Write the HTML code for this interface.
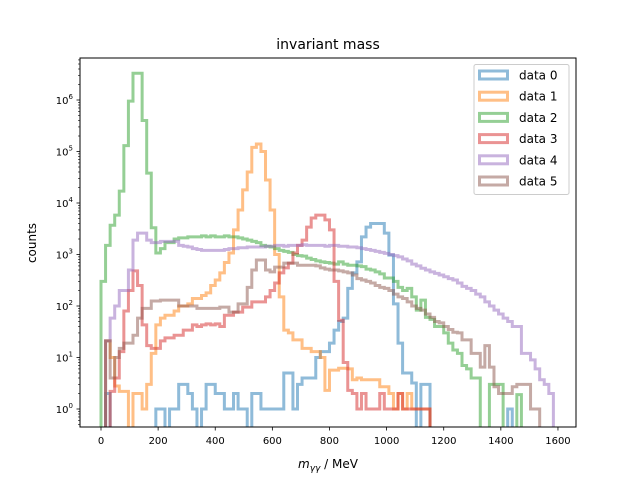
<!DOCTYPE html>
<html><head><meta charset="utf-8"><style>
body{margin:0;background:#fff}
svg text{font-family:"DejaVu Sans","Liberation Sans",sans-serif}
</style></head><body>
<svg id="chart" width="640" height="480" viewBox="0 0 640 480">
<rect width="640" height="480" fill="#fff"/>
<defs><clipPath id="clip"><rect x="80" y="58" width="496" height="369"/></clipPath></defs>
<g id="series" clip-path="url(#clip)"></g>
<rect x="80" y="58" width="496" height="369" fill="none" stroke="#000" stroke-width="1"/>
<g id="axes"></g>
<text x="328" y="49" font-size="14" text-anchor="middle">invariant mass</text>
<text x="328" y="468" font-size="12" text-anchor="middle"><tspan font-style="italic">m</tspan><tspan font-size="9" dy="3" font-style="italic">γγ</tspan><tspan dy="-3"> / MeV</tspan></text>
<text x="0" y="0" font-size="12" text-anchor="middle" transform="translate(36,243) rotate(-90)">counts</text>
<g id="legend"></g>
</svg>
<script>
const binWidth = 16;
const seriesNames = ["data 0","data 1","data 2","data 3","data 4","data 5"];
const colors = ["#1f77b4","#ff7f0e","#2ca02c","#d62728","#9467bd","#8c564b"];
const data0 = [0,2,0,0,0,0,0,0,0,0,0,0,1,1,0,1,1,3,3,2,1,0,1,3,3,2,2,1,1,2,1,1,0,2,2,1,1,1,1,1,5,5,1,3,4,4,4,10,13,13,19,34,50,58,220,440,720,2200,3400,4000,4000,4000,2600,970,110,19,5,5,3.2,0,3,3,0,0,0,0,0,0,0,0,0,0,0,0,0,0,0,0,0,1,0,0,0,0,0,0,0,0,0,0];
const data1 = [0,21,10,2.8,2.2,2.2,0,2,2,1,3,12,43,58,66,66,80,100,100,110,140,140,160,180,250,320,440,700,1070,3000,7300,18000,40000,120000,140000,100000,28000,7300,1000,150,34,30,22,22,15,15,13,13,10,2.3,5.7,5.7,6.2,6.2,6,3.7,4,3.7,3.7,3.7,3.7,2.7,2.7,2,1,2,1,2,1,1,1,1,0,0,0,0,0,0,0,0,0,0,0,0,0,0,0,0,0,0,0,0,0,0,0,0,0,0,0,0];
const data2 = [300,1500,3700,5800,17000,130000,950000,3300000,3300000,400000,38000,3300,1070,1300,1700,1700,2000,2100,2100,2200,2200,2200,2300,2200,2300,2200,2200,2300,2200,2200,2100,2000,1900,1800,1700,1500,1450,1400,1300,1200,1150,1100,1000,950,930,850,800,750,720,700,680,650,720,650,620,620,600,580,520,500,460,420,350,350,300,230,200,220,150,83,130,60,55,40,40,30,19,14,12,7,6,4,4,0,0,3,3,3,0,0,0,1.9,0,0,0,0,0,0,0,0];
const data3 = [0,0,2.2,4,13,80,200,480,250,43,17,15,15,21,24,24,27,27,34,34,43,40,43,45,43,45,40,66,66,76,76,95,95,120,120,120,150,200,280,440,550,680,1070,1500,1900,3400,5100,5800,5800,4700,3000,300,53,8,2.3,2,1,2,1,1,1,2,1,1,1,2,1,1,1,1,1,1,0,0,0,0,0,0,0,0,0,0,0,0,0,0,0,0,0,0,0,0,0,0,0,0,0,0,0,0];
const data4 = [0,21,58,100,200,200,500,1900,2600,2600,1900,1700,1700,1800,1800,1800,1800,1500,1450,1400,1300,1250,1200,1200,1200,1200,1200,1250,1300,1300,1350,1350,1400,1400,1400,1400,1450,1450,1500,1500,1450,1500,1500,1500,1550,1500,1500,1500,1500,1450,1500,1500,1450,1450,1400,1400,1350,1300,1250,1200,1150,1100,1050,1000,950,900,820,750,650,600,540,500,460,430,400,370,340,320,280,240,220,200,170,150,120,100,83,70,58,50,40,40,12,12,9,6,3.7,3,2,0];
const data5 = [0,21,4,10,15,19,19,27,58,90,90,125,125,130,130,130,130,100,100,100,100,90,90,90,90,90,95,95,76,76,110,110,230,500,780,780,500,460,570,570,680,680,680,620,620,620,620,600,550,520,500,500,480,460,440,400,340,320,300,280,250,230,220,200,170,150,140,120,100,90,83,70,60,50,47,40,35,31,30,22,22,12,12,6.5,17,6.5,2.7,2,2,2,2.7,3,3,3,1,1,0,0,0,0];
const seriesValues = [data0,data1,data2,data3,data4,data5];
const xTicks = [0,200,400,600,800,1000,1200,1400,1600];
const yTickExps = [0,1,2,3,4,5,6];

const NS="http://www.w3.org/2000/svg";
function xs(m){return 101 + m*0.2856;}
function ys(v){ if(v<=0) v=0.05; return 409 - 51.5*Math.log10(v);}
function mk(tag,attrs,parent){const e=document.createElementNS(NS,tag);for(const k in attrs)e.setAttribute(k,attrs[k]);parent.appendChild(e);return e;}

const sg=document.getElementById('series');
seriesValues.forEach((vals,si)=>{
  let d="M"+xs(0)+","+ys(0);
  vals.forEach((v,i)=>{
    const y=ys(v);
    d+=" L"+xs(i*binWidth)+","+y+" L"+xs((i+1)*binWidth)+","+y;
  });
  d+=" L"+xs(vals.length*binWidth)+","+ys(0);
  const p=mk('path',{d:d,fill:'none',stroke:colors[si],'stroke-width':3,'stroke-opacity':0.5,'stroke-linejoin':'miter'},sg);
  
  
});

const ax=document.getElementById('axes');
xTicks.forEach(t=>{
  const x=xs(t);
  mk('line',{x1:x,x2:x,y1:427,y2:430.5,stroke:'#000','stroke-width':0.8},ax);
  const tx=mk('text',{x:x,y:444,'font-size':10,'text-anchor':'middle'},ax);
  tx.textContent=t;
  
  
});
yTickExps.forEach(e=>{
  const y=ys(Math.pow(10,e));
  mk('line',{x1:76.5,x2:80,y1:y,y2:y,stroke:'#000','stroke-width':0.8},ax);
  const tx=mk('text',{x:73,y:y+4,'font-size':10,'text-anchor':'end'},ax);
  tx.innerHTML='10<tspan font-size="7" dy="-5">'+e+'</tspan>';
  
  
  for(let k=2;k<10;k++){
    const yy=ys(k*Math.pow(10,e-1));
    if(yy<=427&&yy>=58) mk('line',{x1:78,x2:80,y1:yy,y2:yy,stroke:'#000','stroke-width':0.6},ax);
    if(e==6){const y2=ys(k*1e6); if(y2>=58) mk('line',{x1:78,x2:80,y1:y2,y2:y2,stroke:'#000','stroke-width':0.6},ax);}
  }
});

const lg=document.getElementById('legend');
mk('rect',{x:474,y:64.5,width:95,height:130,rx:2,fill:'#fff','fill-opacity':0.8,stroke:'#ccc','stroke-width':1},lg);
seriesNames.forEach((n,i)=>{
  const cy=75+i*21.2;
  const g=mk('g',{},lg);
  
  
  mk('rect',{x:479.5,y:cy-4,width:28,height:8,fill:'none',stroke:colors[i],'stroke-width':3,'stroke-opacity':0.5},g);
  const t=mk('text',{x:519,y:cy+4.5,'font-size':12},g);
  t.textContent=n;
});
</script>
</body></html>
